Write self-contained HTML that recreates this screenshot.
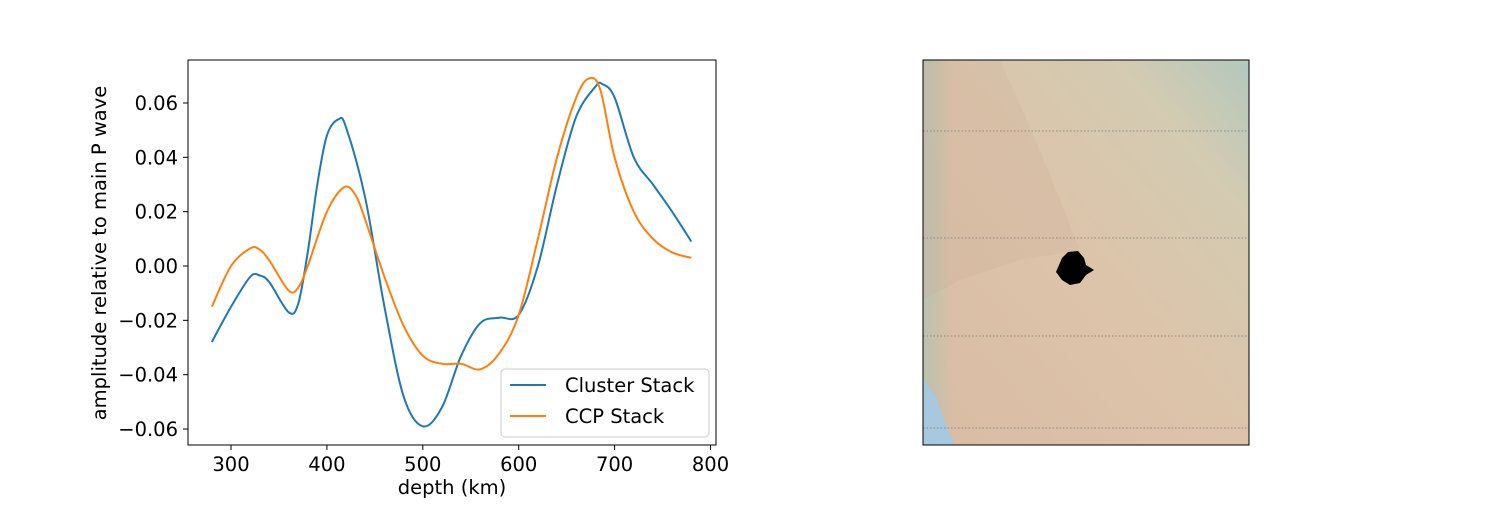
<!DOCTYPE html>
<html><head><meta charset="utf-8"><style>
body{margin:0;background:#fff;}
svg text{font-family:"DejaVu Sans","Liberation Sans",sans-serif;}
</style></head><body>
<svg width="1500" height="500" viewBox="0 0 1500 500" xmlns="http://www.w3.org/2000/svg">
<defs>
<linearGradient id="mapg" x1="0" y1="1" x2="1" y2="0">
<stop offset="0" stop-color="#d9bca3"/>
<stop offset="0.5" stop-color="#dcc4aa"/>
<stop offset="0.8" stop-color="#d3cbb2"/>
<stop offset="1" stop-color="#b3c8bd"/>
</linearGradient>
<linearGradient id="coast" x1="0" y1="0" x2="1" y2="0">
<stop offset="0" stop-color="#b9c2b0"/><stop offset="1" stop-color="#b9c2b0" stop-opacity="0"/>
</linearGradient>
</defs>
<g id="chart"></g>
<g>
<rect x="923" y="60" width="326" height="385" fill="url(#mapg)"/>
<rect x="923" y="60" width="30" height="385" fill="url(#coast)"/>
<path d="M923 380 L935 395 L948 430 L955 445 L923 445 Z" fill="#a8c8df"/>
<path d="M923 60 L1000 60 L1040 150 L1080 250 L1020 260 L960 280 L923 300 Z" fill="#c9a995" opacity="0.2"/>
<g stroke="#888" stroke-width="1" stroke-dasharray="1.5,2">
<line x1="923" y1="131" x2="1249" y2="131"/><line x1="923" y1="238" x2="1249" y2="238"/>
<line x1="923" y1="336" x2="1249" y2="336"/><line x1="923" y1="428" x2="1249" y2="428"/>
</g>
<path d="M1062 258 L1068 252 L1078 251 L1084 258 L1086 265 L1094 270 L1086 275 L1080 283 L1070 285 L1062 280 L1056 272 Z" fill="#000"/>
<rect x="923" y="60" width="326" height="385" fill="none" stroke="#000" stroke-width="1"/>
</g>
</svg>
<script>
const depth=[280,300,320,330,340,360,370,380,390,400,412,420,440,460,480,500,520,540,560,580,600,620,640,660,680,687,700,720,740,760,780];
const cluster=[-0.028,-0.015,-0.004,-0.0035,-0.006,-0.017,-0.014,0.005,0.03,0.048,0.054,0.051,0.025,-0.015,-0.048,-0.059,-0.052,-0.033,-0.021,-0.019,-0.018,0.0,0.03,0.055,0.066,0.067,0.062,0.04,0.03,0.02,0.009];
const depth2=[280,300,320,330,340,360,370,380,400,418,430,440,460,480,500,520,540,560,580,600,620,640,660,673,685,700,720,740,760,780];
const ccp=[-0.015,0.0,0.0065,0.006,0.002,-0.009,-0.008,0.0,0.02,0.029,0.026,0.017,-0.004,-0.022,-0.033,-0.036,-0.036,-0.038,-0.032,-0.018,0.01,0.04,0.062,0.069,0.065,0.04,0.02,0.01,0.005,0.003];
const xTicks=[300,400,500,600,700,800];
const yTicks=[-0.06,-0.04,-0.02,0.00,0.02,0.04,0.06];
const NS="http://www.w3.org/2000/svg";
const g=document.getElementById('chart');
const X=v=>231+(v-300)*0.959;
const Y=v=>266-(v)*2717;
function mk(t,a,p){const e=document.createElementNS(NS,t);for(const k in a)e.setAttribute(k,a[k]);(p||g).appendChild(e);return e;}
function smooth(xs,ys){let p=xs.map((x,i)=>[X(x),Y(ys[i])]);let d=`M${p[0][0]},${p[0][1]}`;
for(let i=0;i<p.length-1;i++){const p0=p[i-1]||p[i],p1=p[i],p2=p[i+1],p3=p[i+2]||p2;
d+=` C${p1[0]+(p2[0]-p0[0])/6},${p1[1]+(p2[1]-p0[1])/6} ${p2[0]-(p3[0]-p1[0])/6},${p2[1]-(p3[1]-p1[1])/6} ${p2[0]},${p2[1]}`;}return d;}
let e;
e=mk('rect',{x:188,y:60,width:528,height:385,fill:'none',stroke:'#000','stroke-width':1});


xTicks.forEach(v=>{const x=X(v);
e=mk('line',{x1:x,y1:445,x2:x,y2:450,stroke:'#000'});


e=mk('text',{x:x,y:471,'text-anchor':'middle','font-size':19.5});e.textContent=v;

});
yTicks.forEach(v=>{const y=Y(v);
e=mk('line',{x1:183,y1:y,x2:188,y2:y,stroke:'#000'});


e=mk('text',{x:178,y:y+7,'text-anchor':'end','font-size':19.5});e.textContent=(v<0?'\u2212':'')+Math.abs(v).toFixed(2);

});
e=mk('text',{x:452,y:494,'text-anchor':'middle','font-size':19.5});e.textContent='depth (km)';


e=mk('text',{x:0,y:0,'text-anchor':'middle','font-size':19.5,transform:'translate(106,253) rotate(-90)'});e.textContent='amplitude relative to main P wave';


e=mk('path',{d:smooth(depth,cluster),fill:'none',stroke:'#1f77b4','stroke-width':2});


e=mk('path',{d:smooth(depth2,ccp),fill:'none',stroke:'#ff7f0e','stroke-width':2});


e=mk('rect',{x:501,y:369,width:208,height:68,rx:4,fill:'#fff','fill-opacity':0.8,stroke:'#ccc'});


[['Cluster Stack','#1f77b4',385],['CCP Stack','#ff7f0e',416]].forEach(([t,c,y])=>{
e=mk('line',{x1:510,y1:y,x2:546,y2:y,stroke:c,'stroke-width':2});


e=mk('text',{x:565,y:y+7,'font-size':19.5});e.textContent=t;

});
</script>
</body></html>
